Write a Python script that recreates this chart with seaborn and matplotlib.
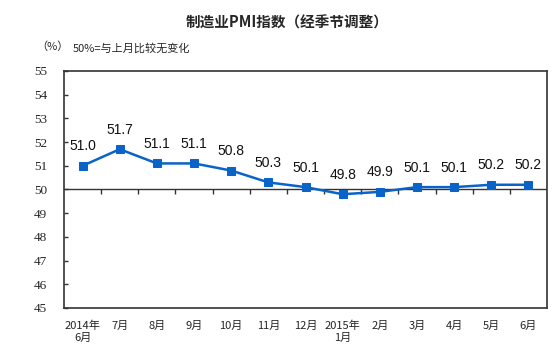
import matplotlib
matplotlib.use("Agg")
import matplotlib.pyplot as plt
import seaborn as sns
import numpy as np
import pandas as pd

categories = ["2014年\n6月", "7月", "8月", "9月", "10月", "11月", "12月",
              "2015年\n1月", "2月", "3月", "4月", "5月", "6月"]
pmi_values = [51.0, 51.7, 51.1, 51.1, 50.8, 50.3, 50.1, 49.8, 49.9, 50.1, 50.1, 50.2, 50.2]
y_ticks = [45, 46, 47, 48, 49, 50, 51, 52, 53, 54, 55]

sns.set_theme(style="white")
plt.rcParams['font.family'] = ['Noto Sans CJK SC', 'DejaVu Sans']

df = pd.DataFrame({"idx": np.arange(len(categories)), "value": pmi_values})

fig = plt.figure(figsize=(5.53, 3.64), dpi=100)
ax = fig.add_axes([64/553, 1 - 308/364, (547-64)/553, (308-71)/364])

line_color = "#0A64C8"
sns.lineplot(data=df, x="idx", y="value", ax=ax, color=line_color, linewidth=1.8,
             marker="s", markersize=6, markeredgecolor=line_color, markerfacecolor=line_color)

ax.set_xlim(-0.5, len(categories) - 0.5)
ax.set_ylim(45, 55)
ax.set_yticks(y_ticks)
ax.set_yticklabels([str(t) for t in y_ticks], fontsize=9.5, family=['Liberation Serif'])
ax.set_xticks(df["idx"])
ax.set_xticklabels(categories, fontsize=8, linespacing=1.3)
ax.tick_params(axis='x', length=0, pad=9)
ax.tick_params(axis='y', left=True, direction='in', length=3, width=1, color="#333333", pad=12)
ax.set_xlabel("")
ax.set_ylabel("")
for s in ax.spines.values():
    s.set_color("#333333")
    s.set_linewidth(1.2)

# baseline at 50 with boundary ticks
ax.axhline(50, color="#333333", linewidth=1, zorder=1)
ax.vlines(np.arange(0.5, len(categories) - 1, 1), 49.83, 50, color="#333333", linewidth=1, zorder=1)

for i, v in enumerate(pmi_values):
    ax.annotate(f"{v:.1f}", (i, v), xytext=(0, 9), textcoords="offset points",
                ha="center", va="bottom", fontsize=10, family=['Liberation Sans'], color="#111111")

fig.text(0.52, 1 - 23/364, "制造业PMI指数（经季节调整）", ha="center", va="center",
         fontsize=10.5, fontweight="bold")
fig.text(36/553, 1 - 47/364, "（%）", ha="left", va="center", fontsize=8)
fig.text(73/553, 1 - 48/364, "50%=与上月比较无变化", ha="left", va="center", fontsize=8)

fig.savefig("out.png", dpi=100)
